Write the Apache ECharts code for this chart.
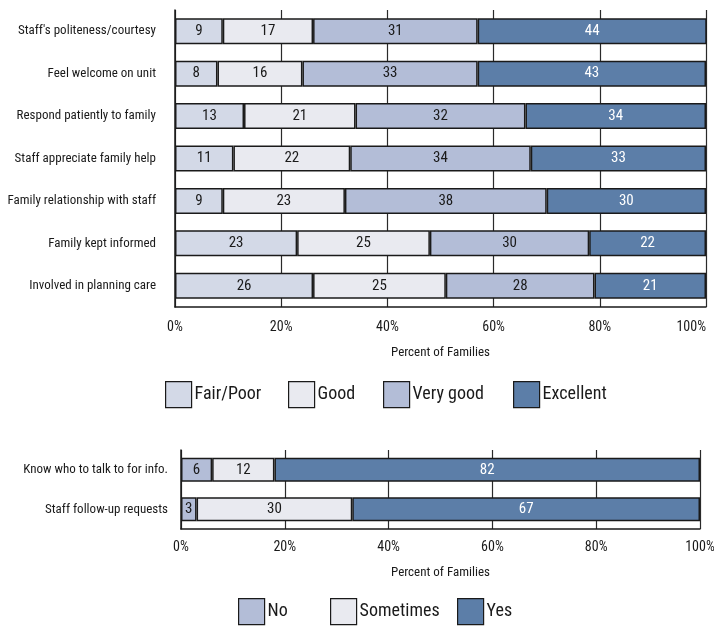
<!DOCTYPE html>
<html>
<head>
<meta charset="utf-8">
<script src="https://cdn.jsdelivr.net/npm/echarts@6/dist/echarts.min.js"></script>
<style>
  html, body { margin: 0; padding: 0; background: #fff; }
  #chart { width: 714px; height: 627px; }
</style>
</head>
<body>
<div id="chart"></div>
<script>
// Ratings of care (percent of families)
const ratingItems = [
  "Staff's politeness/courtesy",
  'Feel welcome on unit',
  'Respond patiently to family',
  'Staff appreciate family help',
  'Family relationship with staff',
  'Family kept informed',
  'Involved in planning care'
];
const fairPoor  = [9, 8, 13, 11, 9, 23, 26];
const good      = [17, 16, 21, 22, 23, 25, 25];
const veryGood  = [31, 33, 32, 34, 38, 30, 28];
const excellent = [44, 43, 34, 33, 30, 22, 21];

// Yes / Sometimes / No questions
const yesNoItems = ['Know who to talk to for info.', 'Staff follow-up requests'];
const noVals        = [6, 3];
const sometimesVals = [12, 30];
const yesVals       = [82, 67];

const percentTicks = [0, 20, 40, 60, 80, 100];

const FONT = '"Roboto Condensed", "DejaVu Sans Condensed", sans-serif';
const INK = '#1a1a1a';
const C_FAIR = '#d3d9e7', C_GOOD = '#e9eaf0', C_VGOOD = '#b3bdd7', C_EXC = '#5c7ea8';

function barSeries(name, data, color, xi, labelColor, width) {
  return {
    name, type: 'bar', stack: 's' + xi, data,
    xAxisIndex: xi, yAxisIndex: xi,
    barWidth: width,
    itemStyle: { color, borderColor: INK, borderWidth: 1.5 },
    label: {
      show: true, position: 'inside', color: labelColor,
      fontFamily: FONT, fontSize: 15
    },
    emphasis: { disabled: true }
  };
}

function xAxisFor(gi, nameGap, labelMargin, alignMax) {
  return {
    type: 'value', gridIndex: gi, min: 0, max: 100, interval: 20,
    name: 'Percent of Families', nameLocation: 'middle', nameGap,
    nameTextStyle: { fontFamily: FONT, fontSize: 13, color: INK },
    axisLine: { show: true, lineStyle: { color: INK, width: 1.5 } },
    axisTick: { show: false },
    axisLabel: {
      fontFamily: FONT, fontSize: 14, color: INK, margin: labelMargin,
      alignMaxLabel: alignMax,
      formatter: v => percentTicks.includes(v) ? v + '%' : ''
    },
    splitLine: { show: true, lineStyle: { color: '#2a2a2a', width: 1.2 } }
  };
}

function yAxisFor(gi, cats, margin) {
  return {
    type: 'category', gridIndex: gi, data: cats, inverse: true,
    axisLine: { show: true, lineStyle: { color: INK, width: 1.5 } },
    axisTick: { show: false },
    axisLabel: { fontFamily: FONT, fontSize: 13, color: INK, margin }
  };
}

// one legend entry per component so each box sits where it should
function legendItem(name, left, top) {
  return {
    data: [name], left, top, padding: 0,
    itemWidth: 26, itemHeight: 26, icon: 'rect', selectedMode: false,
    itemStyle: { borderColor: INK, borderWidth: 1.2 },
    textStyle: { fontFamily: FONT, fontSize: 18, color: INK, padding: [0, 0, 0, -2] }
  };
}

const chart = echarts.init(document.getElementById('chart'), null, { renderer: 'canvas' });
chart.setOption({
  animation: false,
  backgroundColor: '#fff',
  grid: [
    { left: 175, right: 8, top: 10, height: 297, outerBoundsMode: 'none', containLabel: false },
    { left: 181, right: 14, top: 450, height: 79, outerBoundsMode: 'none', containLabel: false }
  ],
  xAxis: [xAxisFor(0, 39, 13, 'right'), xAxisFor(1, 37, 11, 'center')],
  yAxis: [yAxisFor(0, ratingItems, 19), yAxisFor(1, yesNoItems, 13)],
  legend: [
    legendItem('Fair/Poor', 165, 381),
    legendItem('Good', 288, 381),
    legendItem('Very good', 383, 381),
    legendItem('Excellent', 513, 381),
    legendItem('No', 238, 598),
    legendItem('Sometimes', 330, 598),
    legendItem('Yes', 457, 598)
  ],
  series: [
    barSeries('Fair/Poor', fairPoor, C_FAIR, 0, INK, 26),
    barSeries('Good', good, C_GOOD, 0, INK, 26),
    barSeries('Very good', veryGood, C_VGOOD, 0, INK, 26),
    barSeries('Excellent', excellent, C_EXC, 0, '#fff', 26),
    barSeries('No', noVals, C_VGOOD, 1, INK, 24),
    barSeries('Sometimes', sometimesVals, C_GOOD, 1, INK, 24),
    barSeries('Yes', yesVals, C_EXC, 1, '#fff', 24)
  ]
});
</script>
</body>
</html>
